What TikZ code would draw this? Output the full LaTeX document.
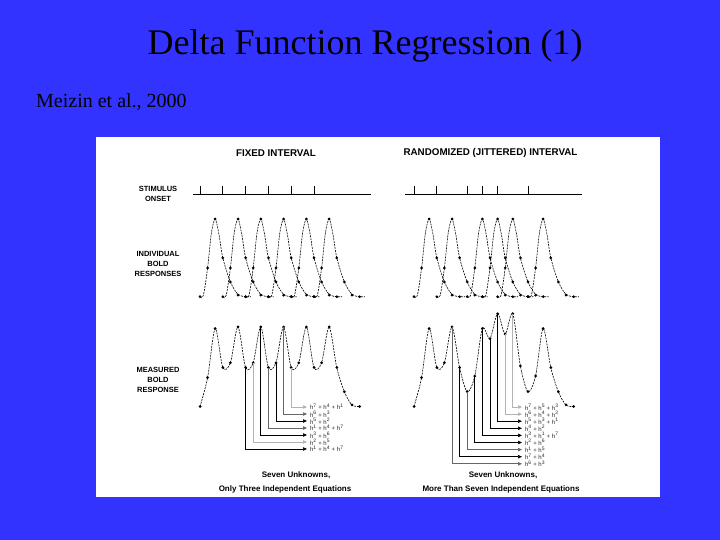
\documentclass[tikz,border=0pt]{standalone}
\usepackage{fontspec}
\setmainfont{Liberation Serif}
\newfontfamily\hv{Liberation Sans}
\usetikzlibrary{arrows.meta}
\definecolor{slideblue}{RGB}{51,51,255}
\begin{document}
\begin{tikzpicture}[x=1pt,y=-1pt,
  dotn/.style={circle,fill=black,inner sep=0pt,minimum size=3pt},
  curve/.style={line width=0.6pt,dash pattern=on 2pt off 1pt},
  conn/.style={line width=0.7pt,-{Triangle[length=4pt,width=3.4pt]}},
  faint/.style={draw=black!30},
  midg/.style={draw=black!60},
  eq/.style={font=\hv\fontsize{6}{6.5}\selectfont,text=black!85,anchor=west,inner sep=0pt,outer xsep=3pt},
  lbl/.style={font=\hv\bfseries\fontsize{7.5}{10}\selectfont,align=center,inner sep=0pt},
  hdr/.style={font=\hv\bfseries\fontsize{9.8}{11}\selectfont,inner sep=0pt},
  captxt/.style={font=\hv\bfseries\fontsize{8}{10}\selectfont,inner sep=0pt},
  stim/.style={line width=0.7pt},
  tickln/.style={line width=1pt}]
\useasboundingbox (0,0) rectangle (720,540);
\fill[slideblue] (0,0) rectangle (720,540);
% titles
\node[anchor=base,inner sep=0pt,font=\fontsize{36}{40}\selectfont] (title) at (365,55) {Delta Function Regression (1)};
\node[anchor=base west,inner sep=0pt,font=\fontsize{20}{24}\selectfont] (cite) at (36,108) {Meizin et al., 2000};
% panel
\fill[white] (96,137) rectangle (660,497);
\node[hdr] (hfix) at (276,153) {FIXED INTERVAL};
\node[hdr] (hrand) at (490.5,153) {RANDOMIZED (JITTERED) INTERVAL};
\node[lbl] (lstim) at (158,194) {STIMULUS\\ONSET};
\node[lbl] (lind) at (158,264) {INDIVIDUAL\\BOLD\\RESPONSES};
\node[lbl] (lmeas) at (158,379.5) {MEASURED\\BOLD\\RESPONSE};
% stimulus lines
\draw[stim] (193,194) -- (371,194);
\foreach \o in {0,3,6,9,12,15} \draw[tickln] ({200+7.6*\o},186) -- ({200+7.6*\o},194);
\draw[stim] (405,194) -- (582,194);
\foreach \o in {0,3,7,9,11,15} \draw[tickln] ({414+7.6*\o},186) -- ({414+7.6*\o},194);
% individual responses, fixed
\begin{scope}[shift={(200,296.7)},xscale=7.6,yscale=-77.7]
\foreach \o in {0,3,6,9,12,15}{
  \draw[curve] plot[smooth] coordinates {(\o,0) ({\o+0.45},0.02) ({\o+1},0.37) ({\o+1.5},0.82) ({\o+2},1) ({\o+2.5},0.8) ({\o+3},0.5) ({\o+4},0.19) ({\o+5},0.03) ({\o+6},0) ({\o+6.7},0)};
  \foreach \j/\v in {0/0,1/0.37,2/1,3/0.5,4/0.19,5/0.02,6/0}
    \node[dotn] (fi\o-\j) at ({\o+\j},\v) {};
}
\end{scope}
% individual responses, jittered
\begin{scope}[shift={(414,296.7)},xscale=7.6,yscale=-77.7]
\foreach \o in {0,3,7,9,11,15}{
  \draw[curve] plot[smooth] coordinates {(\o,0) ({\o+0.45},0.02) ({\o+1},0.37) ({\o+1.5},0.82) ({\o+2},1) ({\o+2.5},0.8) ({\o+3},0.5) ({\o+4},0.19) ({\o+5},0.03) ({\o+6},0) ({\o+6.7},0)};
  \foreach \j/\v in {0/0,1/0.37,2/1,3/0.5,4/0.19,5/0.02,6/0}
    \node[dotn] (ji\o-\j) at ({\o+\j},\v) {};
}
\end{scope}
% measured, fixed
\begin{scope}[shift={(200,406.5)},xscale=7.6,yscale=-78]
\foreach \k/\v in {0/0,1/0.37,2/1,3/0.5,4/0.56,5/1.02,6/0.5,7/0.56,8/1.02,9/0.5,10/0.56,11/1.02,12/0.5,13/0.56,14/1.02,15/0.5,16/0.56,17/1.02,18/0.5,19/0.19,20/0.02,21/0}{
  \coordinate (L\k) at (\k,\v);
  \node[dotn] (Ld\k) at (\k,\v) {};
}
\draw[curve] plot[smooth] coordinates {(L0) (L1) (L2) (L3) (L4) (L5) (L6) (L7) (L8) (L9) (L10) (L11) (L12) (L13) (L14) (L15) (L16) (L17) (L18) (L19) (L20) (L21)};
\end{scope}
% measured, jittered
\begin{scope}[shift={(414,406.5)},xscale=7.6,yscale=-78]
\foreach \k/\v in {0/0,1/0.37,2/1,3/0.5,4/0.56,5/1.02,6/0.5,7/0.19,8/0.39,9/1,10/0.87,11/1.19,12/0.93,13/1.19,14/0.52,15/0.19,16/0.39,17/1,18/0.5,19/0.19,20/0.02,21/0}{
  \coordinate (R\k) at (\k,\v);
  \node[dotn] (Rd\k) at (\k,\v) {};
}
\draw[curve] plot[smooth] coordinates {(R0) (R1) (R2) (R3) (R4) (R5) (R6) (R7) (R8) (R9) (R10) (R11) (R12) (R13) (R14) (R15) (R16) (R17) (R18) (R19) (R20) (R21)};
\end{scope}
% equations, fixed
\node[eq] (le1) at (307,407.0) {h\textsuperscript{7} + h\textsuperscript{4} + h\textsuperscript{1}};
\node[eq] (le2) at (307,414.0) {h\textsuperscript{6} + h\textsuperscript{3}};
\node[eq] (le3) at (307,421.0) {h\textsuperscript{5} + h\textsuperscript{2}};
\node[eq] (le4) at (307,428.0) {h\textsuperscript{1} + h\textsuperscript{4} + h\textsuperscript{7}};
\node[eq] (le5) at (307,435.0) {h\textsuperscript{3} + h\textsuperscript{6}};
\node[eq] (le6) at (307,442.0) {h\textsuperscript{2} + h\textsuperscript{5}};
\node[eq] (le7) at (307,449.0) {h\textsuperscript{1} + h\textsuperscript{4} + h\textsuperscript{7}};
\draw[conn,faint] (L12) |- (le1.west);
\draw[conn,midg] (L11) |- (le2.west);
\draw[conn] (L10) |- (le3.west);
\draw[conn,midg,line width=1pt] (L9) |- (le4.west);
\draw[conn] (L8) |- (le5.west);
\draw[conn,faint] (L7) |- (le6.west);
\draw[conn] (L6) |- (le7.west);
% equations, jittered
\node[eq] (re1) at (522,407.0) {h\textsuperscript{7} + h\textsuperscript{5} + h\textsuperscript{3}};
\node[eq] (re2) at (522,414.1) {h\textsuperscript{6} + h\textsuperscript{4} + h\textsuperscript{2}};
\node[eq] (re3) at (522,421.2) {h\textsuperscript{5} + h\textsuperscript{3} + h\textsuperscript{1}};
\node[eq] (re4) at (522,428.3) {h\textsuperscript{4} + h\textsuperscript{2}};
\node[eq] (re5) at (522,435.4) {h\textsuperscript{3} + h\textsuperscript{1} + h\textsuperscript{7}};
\node[eq] (re6) at (522,442.5) {h\textsuperscript{2} + h\textsuperscript{6}};
\node[eq] (re7) at (522,449.6) {h\textsuperscript{1} + h\textsuperscript{5}};
\node[eq] (re8) at (522,456.7) {h\textsuperscript{7} + h\textsuperscript{4}};
\node[eq] (re9) at (522,463.8) {h\textsuperscript{6} + h\textsuperscript{3}};
\draw[conn,faint] (R13) |- (re1.west);
\draw[conn,faint] (R12) |- (re2.west);
\draw[conn] (R11) |- (re3.west);
\draw[conn] (R10) |- (re4.west);
\draw[conn] (R9) |- (re5.west);
\draw[conn] (R8) |- (re6.west);
\draw[conn,midg] (R7) |- (re7.west);
\draw[conn] (R6) |- (re8.west);
\draw[conn,midg] (R5) |- (re9.west);
% captions
\node[captxt] (lc1) at (296,475) {Seven Unknowns,};
\node[captxt] (lc2) at (285,489) {Only Three Independent Equations};
\node[captxt] (rc1) at (503,475) {Seven Unknowns,};
\node[captxt] (rc2) at (501,489) {More Than Seven Independent Equations};
\end{tikzpicture}
\end{document}
